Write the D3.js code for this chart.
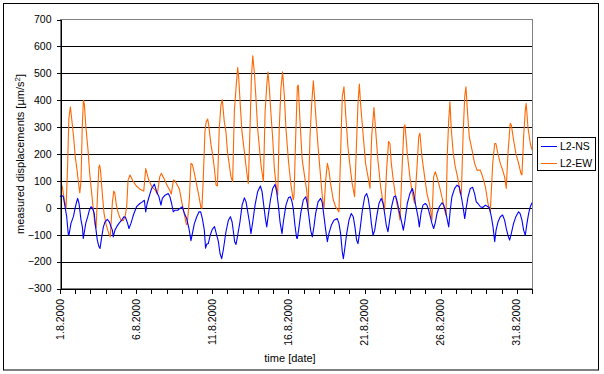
<!DOCTYPE html>
<html>
<head>
<meta charset="utf-8">
<script src="https://cdn.jsdelivr.net/npm/d3@7"></script>
<style>
  body { margin: 0; background: #fff; }
  svg { display: block; font-family: "Liberation Sans", Arial, sans-serif; }
</style>
</head>
<body>
<script>
// days since 1.8.2000 00:00 and values
const nsDays = [0,0.1,0.22,0.33,0.44,0.55,0.6,0.72,0.88,0.99,1.09,1.16,1.25,1.38,1.47,1.53,1.6,1.69,1.82,1.93,2.04,2.12,2.25,2.34,2.45,2.56,2.63,2.74,2.85,2.96,3.11,3.24,3.35,3.44,3.5,3.61,3.72,3.87,4.05,4.2,4.3,4.44,4.53,4.66,4.82,5.03,5.25,5.41,5.54,5.63,5.72,5.85,6.02,6.2,6.35,6.5,6.63,6.72,6.9,7.11,7.22,7.33,7.44,7.55,7.73,7.88,8.03,8.17,8.32,8.47,8.6,8.68,8.82,8.97,9.13,9.24,9.35,9.48,9.56,9.64,9.74,9.85,10.0,10.15,10.29,10.4,10.51,10.62,10.73,10.9,11.06,11.19,11.3,11.39,11.47,11.56,11.67,11.82,11.96,12.11,12.22,12.33,12.44,12.54,12.66,12.81,12.98,13.16,13.27,13.38,13.49,13.58,13.68,13.82,13.97,14.12,14.23,14.34,14.45,14.58,14.67,14.84,15.0,15.13,15.24,15.32,15.43,15.54,15.59,15.7,15.81,15.98,16.14,16.24,16.35,16.46,16.57,16.68,16.79,16.95,17.12,17.22,17.34,17.45,17.56,17.66,17.82,17.99,18.21,18.32,18.43,18.54,18.61,18.69,18.83,18.98,19.13,19.26,19.37,19.48,19.57,19.7,19.86,20.01,20.14,20.24,20.36,20.45,20.56,20.67,20.8,20.95,21.1,21.22,21.32,21.43,21.54,21.65,21.78,21.93,22.04,22.15,22.26,22.41,22.55,22.66,22.81,22.98,23.14,23.23,23.38,23.51,23.6,23.71,23.84,23.99,24.1,24.21,24.32,24.43,24.54,24.65,24.76,24.91,25.09,25.2,25.31,25.42,25.53,25.63,25.74,25.92,26.07,26.22,26.36,26.47,26.58,26.68,26.8,26.95,27.1,27.23,27.34,27.45,27.61,27.76,27.94,28.11,28.2,28.33,28.44,28.55,28.64,28.77,28.92,29.07,29.2,29.31,29.42,29.53,29.64,29.79,29.94,30.12,30.22,30.34,30.45,30.56,30.67,30.78,30.89,31.0];
const nsValues = [41,47,41,4,-33,-102,-98,-58,-33,-2,22,35,16,-46,-71,-114,-90,-58,-33,-9,4,0,-21,-71,-120,-145,-151,-108,-71,-52,-43,-52,-70,-83,-108,-83,-71,-58,-46,-33,-35,-58,-77,-58,-27,4,16,22,28,-15,15,41,72,88,59,41,10,35,47,53,41,16,-15,-9,-9,-2,4,-21,-40,-77,-122,-100,-60,-35,-15,-15,-40,-83,-150,-135,-133,-105,-80,-70,-102,-125,-170,-189,-155,-89,-46,-33,-52,-89,-126,-136,-102,-52,10,37,22,-15,-52,-96,-52,10,60,81,60,10,-40,-71,-27,29,72,87,60,10,-52,-96,-52,10,37,41,22,-3,-65,-112,-114,-71,-21,29,41,16,-33,-83,-108,-70,-21,22,35,20,-33,-83,-126,-96,-65,-46,-40,-58,-96,-164,-189,-157,-96,-46,-21,-33,-71,-120,-133,-83,-9,41,53,35,-9,-58,-102,-83,-33,16,35,16,-21,-65,-89,-46,4,41,44,22,-9,-46,-83,-46,16,53,72,53,4,-33,-71,-21,10,16,10,-9,-33,-58,-77,-55,-21,4,19,10,-9,-40,-71,-9,41,72,84,78,41,4,-40,0,41,72,76,53,22,16,4,1,10,4,0,-33,-71,-126,-83,-52,-33,-27,-46,-77,-102,-120,-96,-58,-33,-15,-22,-46,-83,-102,-58,-21,4,19];

const ewDays = [0,0.15,0.3,0.4,0.5,0.58,0.68,0.77,0.9,1.0,1.12,1.2,1.3,1.38,1.46,1.54,1.6,1.7,1.84,1.95,2.06,2.17,2.28,2.37,2.47,2.55,2.6,2.66,2.76,2.89,3.04,3.2,3.3,3.44,3.53,3.6,3.7,3.83,4.0,4.15,4.27,4.38,4.47,4.6,4.79,5.0,5.23,5.5,5.63,5.82,6.03,6.26,6.39,6.55,6.65,6.83,7.02,7.2,7.31,7.45,7.55,7.7,7.84,8.0,8.17,8.3,8.36,8.5,8.6,8.7,8.82,8.98,9.11,9.26,9.32,9.41,9.52,9.6,9.7,9.76,9.92,10.03,10.14,10.25,10.34,10.46,10.57,10.66,10.79,10.9,11.0,11.12,11.23,11.34,11.45,11.56,11.67,11.74,11.84,11.95,12.11,12.26,12.37,12.48,12.57,12.66,12.77,12.87,12.98,13.1,13.2,13.36,13.47,13.58,13.66,13.75,13.86,13.97,14.08,14.19,14.3,14.4,14.51,14.62,14.73,14.84,15.01,15.17,15.32,15.37,15.48,15.59,15.65,15.76,15.91,16.07,16.2,16.29,16.42,16.53,16.64,16.79,16.95,17.08,17.23,17.34,17.45,17.56,17.66,17.77,17.95,18.1,18.32,18.43,18.54,18.65,18.76,18.91,19.08,19.19,19.35,19.49,19.57,19.66,19.74,19.92,20.07,20.23,20.36,20.47,20.62,20.73,20.88,21.06,21.23,21.32,21.45,21.58,21.67,21.76,21.89,22.04,22.26,22.33,22.48,22.59,22.66,22.81,22.98,23.14,23.29,23.45,23.56,23.64,23.77,23.95,24.1,24.26,24.37,24.43,24.54,24.65,24.82,24.98,25.13,25.26,25.35,25.44,25.53,25.61,25.7,25.83,25.96,26.11,26.29,26.36,26.47,26.58,26.66,26.77,26.88,27.06,27.23,27.39,27.61,27.76,27.94,28.11,28.26,28.42,28.55,28.63,28.76,28.92,29.07,29.2,29.31,29.42,29.57,29.64,29.79,29.94,30.12,30.27,30.34,30.45,30.56,30.62,30.73,30.89,31.0];
const ewValues = [100,78,25,-2,160,330,375,330,260,190,140,100,55,100,300,400,385,301,215,128,66,4,-58,-75,53,150,159,140,66,-20,-65,-95,-108,20,62,55,10,-21,-46,-48,-34,4,103,122,100,82,70,62,146,105,78,66,51,115,128,109,85,66,51,103,100,85,70,20,-25,-62,-60,35,165,160,130,84,47,0,-2,109,283,320,330,310,233,196,146,84,82,295,382,402,320,283,208,159,115,97,357,444,521,481,382,283,208,134,90,295,481,565,500,407,295,221,159,97,357,456,505,444,345,258,146,84,47,295,444,506,419,295,171,84,29,45,264,450,456,326,177,115,66,-9,264,388,472,351,227,140,41,-2,103,165,140,90,29,4,-15,202,413,450,351,227,140,90,41,264,388,460,388,264,165,115,72,264,373,289,177,78,16,-9,140,246,239,165,103,41,-21,-46,165,301,308,202,115,53,16,153,264,277,190,115,53,16,-21,-46,115,134,103,66,29,-9,-27,202,326,394,289,202,153,115,53,50,264,413,450,351,264,215,165,140,140,115,78,16,-15,165,239,239,202,165,140,115,72,202,314,308,252,202,165,128,122,264,363,388,301,239,215];

const seriesNames = ["L2-NS", "L2-EW"];
const seriesColors = ["#0000ff", "#ff6600"];
const yTicks = [-300,-200,-100,0,100,200,300,400,500,600,700];
const xTickLabels = ["1.8.2000","6.8.2000","11.8.2000","16.8.2000","21.8.2000","26.8.2000","31.8.2000"];

const W = 604, H = 374;
const plotLeft = 60, plotRight = 532, plotTop = 19.5, plotBottom = 288.5;
const parseDay = d3.timeParse("%d.%m.%Y");
const start = new Date(2000, 7, 1);
const toDate = d => new Date(start.getTime() + d * 864e5);

const x = d3.scaleTime().domain([start, new Date(2000, 8, 1)]).range([plotLeft, plotRight]);
const y = d3.scaleLinear().domain([-300, 700]).range([plotBottom, plotTop]);

const svg = d3.select("body").append("svg").attr("width", W).attr("height", H);

// outer frame
svg.append("rect").attr("x", 3.5).attr("y", 3.5).attr("width", 595).attr("height", 366.5)
  .attr("fill", "#fff").attr("stroke", "#000");

// plot area border (grey)
svg.append("rect").attr("x", plotLeft).attr("y", plotTop).attr("width", plotRight - plotLeft).attr("height", plotBottom - plotTop)
  .attr("fill", "#fff").attr("stroke", "#808080").attr("shape-rendering", "crispEdges");

// gridlines
svg.append("g").selectAll("line")
  .data(yTicks.filter(t => t > -300 && t < 700))
  .enter().append("line")
    .attr("x1", plotLeft).attr("x2", plotRight)
    .attr("y1", d => Math.round(y(d)) + 0.5).attr("y2", d => Math.round(y(d)) + 0.5)
    .attr("stroke", "#000").attr("shape-rendering", "crispEdges");

// series
const line = d3.line().x(p => x(toDate(p[0]))).y(p => y(p[1]));
const series = [d3.zip(nsDays, nsValues), d3.zip(ewDays, ewValues)];
// EW first so NS sits on top where they cross
[1, 0].forEach(i => {
  svg.append("path").datum(series[i])
    .attr("d", line)
    .attr("fill", "none")
    .attr("stroke", seriesColors[i])
    .attr("stroke-width", 1.1)
    .attr("stroke-linejoin", "round");
});

// y axis
const yAxis = d3.axisLeft(y).tickValues(yTicks).tickSize(4).tickSizeOuter(0).tickPadding(5);
const gy = svg.append("g").attr("transform", "translate(" + (plotLeft + 0.5) + ",0)").call(yAxis);
gy.selectAll("text").attr("font-size", "10.5px").attr("fill", "#000").attr("font-family", "Liberation Sans, Arial, sans-serif");
gy.selectAll("line,path").attr("stroke", "#000").attr("shape-rendering", "crispEdges");

// x axis: a tick every day
const xAxis = d3.axisBottom(x).ticks(d3.timeDay.every(1)).tickSize(5).tickSizeOuter(0).tickFormat("");
const gx = svg.append("g").attr("transform", "translate(0," + (plotBottom + 0.5) + ")").call(xAxis);
gx.selectAll("line,path").attr("stroke", "#000").attr("shape-rendering", "crispEdges");

// rotated date labels
svg.append("g").selectAll("text")
  .data(xTickLabels)
  .enter().append("text")
    .attr("transform", d => "translate(" + x(parseDay(d)) + ",299) rotate(-90)")
    .attr("text-anchor", "end")
    .attr("dy", "0.35em")
    .attr("font-size", "10.5px")
    .text(d => d);

// axis titles
svg.append("text").attr("x", 290).attr("y", 362).attr("text-anchor", "middle")
  .attr("font-size", "11px").text("time [date]");

const yt = svg.append("text").attr("transform", "translate(20," + ((plotTop + plotBottom) / 2) + ") rotate(-90)")
  .attr("text-anchor", "middle").attr("dy", "0.35em").attr("font-size", "11px");
yt.append("tspan").text("measured displacements [µm/s");
yt.append("tspan").attr("font-size", "8px").attr("dy", "-4").text("2");
yt.append("tspan").attr("dy", "4").text("]");

// legend
const lg = svg.append("g");
lg.append("rect").attr("x", 537.5).attr("y", 137.5).attr("width", 58).attr("height", 33)
  .attr("fill", "#fff").attr("stroke", "#000");
seriesNames.forEach((name, i) => {
  const ly = 146.5 + i * 16.5;
  lg.append("line").attr("x1", 541).attr("x2", 557).attr("y1", ly).attr("y2", ly)
    .attr("stroke", seriesColors[i]).attr("shape-rendering", "crispEdges");
  lg.append("text").attr("x", 560).attr("y", ly).attr("dy", "0.35em")
    .attr("font-size", "10.5px").text(name);
});
</script>
</body>
</html>
